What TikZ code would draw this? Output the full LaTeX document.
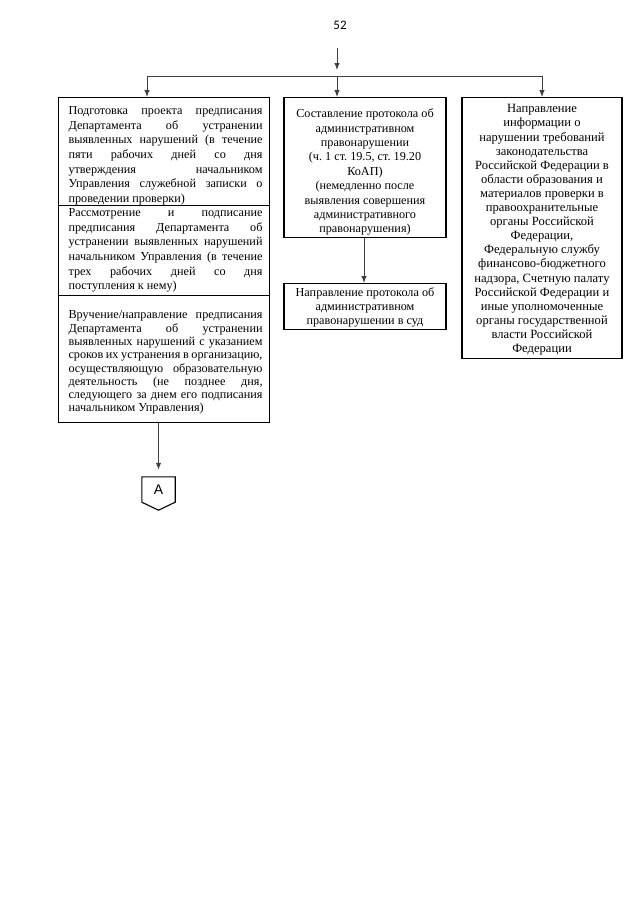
\documentclass[tikz,border=0pt]{standalone}
\usepackage{fontspec}
\setmainfont{Liberation Serif}
\newfontfamily\numfont{Carlito}
\newfontfamily\sansA{Liberation Sans}
\usetikzlibrary{arrows.meta}
\frenchspacing
\newlength\lind \setlength\lind{10pt}
\newlength\lw \setlength\lw{194pt}
\newlength\bw \setlength\bw{211pt}
% justified line
\newcommand\jl[1]{\hbox to\bw{\hskip\lind\hbox to\lw{\spaceskip=.25em plus 3em minus .15em\xspaceskip=\spaceskip\strut #1}\hss}}
% last (unjustified) line
\newcommand\fl[1]{\hbox to\bw{\hskip\lind\strut #1\hfil}}
% box contents: height, width, top pad, body
\newcommand\lbox[4]{\parbox[c][#1][t]{#2}{\vspace*{#3}#4}}
\newcommand\cbx[4]{\parbox[c][#1][t]{#2}{\vspace*{#3}\centering\strut #4\par}}
\tikzset{
  boxa/.style={draw=black, line width=1.1pt, inner sep=0pt},
  sect/.style={boxa, anchor=north west},
  cbox/.style={boxa, anchor=north},
  conn/.style={draw=black!75, line width=1pt},
  arr/.style={conn, -{Latex[length=7pt,width=5.5pt]}},
}
\begin{document}
\begin{tikzpicture}[x=1pt,y=-1pt]
\path[use as bounding box, fill=white] (0,0) rectangle (640,905);
\node (pg) at (340,25) {\numfont\fontsize{13}{15}\selectfont 52};

% left column
\node[sect, font=\fontsize{12.2}{14.6}\selectfont] (s1) at (58,97) {\lbox{108pt}{\bw}{7pt}{%
\jl{Подготовка проекта предписания}
\jl{Департамента об устранении}
\jl{выявленных нарушений (в течение}
\jl{пяти рабочих дней со дня}
\jl{утверждения начальником}
\jl{Управления служебной записки о}
\fl{проведении проверки)}}};
\node[sect, font=\fontsize{12.2}{14.6}\selectfont] (s2) at (58,205) {\lbox{90pt}{\bw}{1pt}{%
\jl{Рассмотрение и подписание}
\jl{предписания Департамента об}
\jl{устранении выявленных нарушений}
\jl{начальником Управления (в течение}
\jl{трех рабочих дней со дня}
\fl{поступления к нему)}}};
\node[sect, font=\fontsize{12.2}{13.3}\selectfont] (s3) at (58,295) {\lbox{127pt}{\bw}{14pt}{%
\jl{Вручение/направление предписания}
\jl{Департамента об устранении}
\jl{выявленных нарушений с указанием}
\jl{сроков их устранения в организацию,}
\jl{осуществляющую образовательную}
\jl{деятельность (не позднее дня,}
\jl{следующего за днем его подписания}
\fl{начальником Управления)}}};

% middle column
\node[cbox, font=\fontsize{12.2}{14.4}\selectfont] (m1) at (365,97) {\cbx{140pt}{162pt}{10pt}{%
Составление протокола об\\
административном\\
правонарушении\\
(ч. 1 ст. 19.5, ст. 19.20\\
КоАП)\\
(немедленно после\\
выявления совершения\\
административного\\
правонарушения)}};
\node[cbox, font=\fontsize{12.2}{14}\selectfont] (m2) at (365,283) {\cbx{46pt}{162pt}{3.5pt}{%
Направление протокола об\\
административном\\
правонарушении в суд}};

% right column
\node[cbox, font=\fontsize{12.6}{14.1}\selectfont] (r1) at (542,97) {\cbx{261pt}{160pt}{5.4pt}{%
Направление\\
информации о\\
нарушении требований\\
законодательства\\
Российской Федерации в\\
области образования и\\
материалов проверки в\\
правоохранительные\\
органы Российской\\
Федерации,\\
Федеральную службу\\
финансово-бюджетного\\
надзора, Счетную палату\\
Российской Федерации и\\
иные уполномоченные\\
органы государственной\\
власти Российской\\
Федерации}};

% off-page connector
\node[minimum width=33pt, minimum height=25pt, inner sep=0pt,
  font=\sansA\fontsize{14}{16}\selectfont] (A) at (158.5,489.5) {A};
\draw[line width=1.1pt, line join=miter] (A.north west) -- (A.north east) -- (A.south east)
  -- ([yshift=-8pt]A.south) -- (A.south west) -- cycle;

% connectors
\coordinate (t0) at (337,48);
\coordinate (t1) at (337,70);
\coordinate (hl) at (147,76);
\coordinate (hm) at (337,76);
\coordinate (hr) at (542,76);
\coordinate (mx) at (364,0);
\coordinate (lx) at (158.5,0);
\draw[arr] (t0) -- (t1);
\draw[conn] (hl) -- (hr);
\draw[arr] (hl) -- (hl |- s1.north);
\draw[arr] (hm) -- (hm |- m1.north);
\draw[arr] (hr) -- (hr |- r1.north);
\draw[arr] (m1.south -| mx) -- (m2.north -| mx);
\draw[arr] (s3.south -| lx) -- ([yshift=7pt]A.north);
\end{tikzpicture}
\end{document}
